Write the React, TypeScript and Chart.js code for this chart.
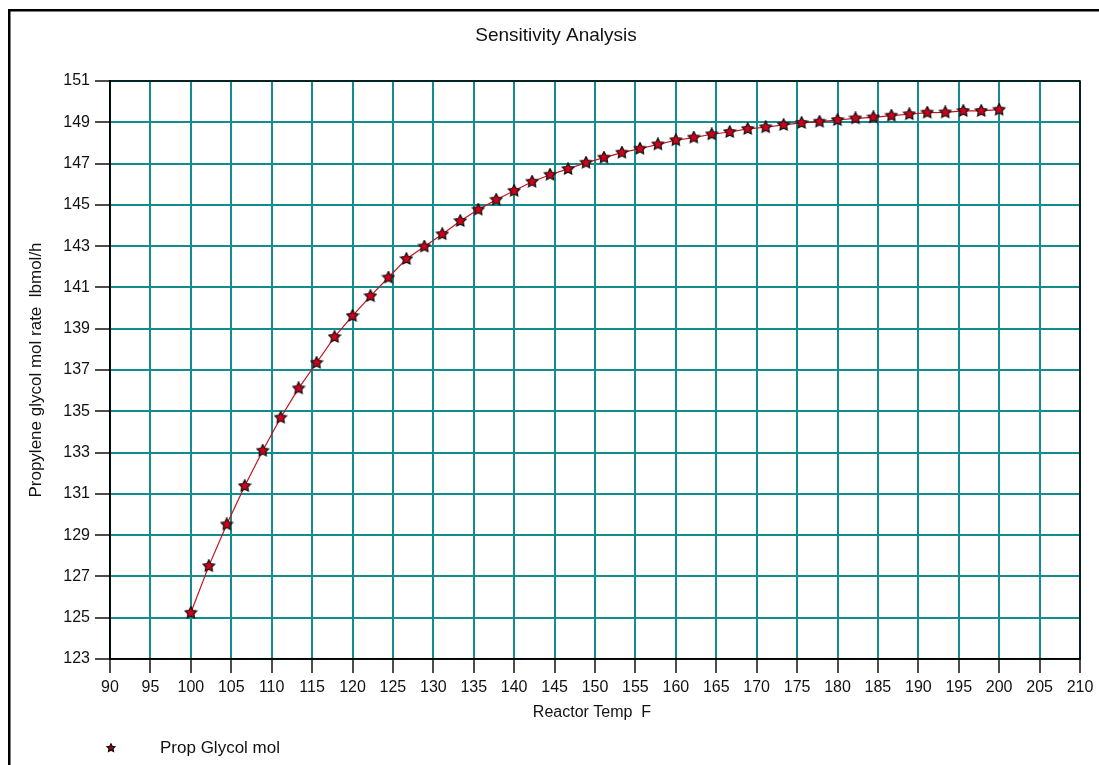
import { useEffect, useRef } from 'react';
import { Chart, registerables } from 'chart.js';

Chart.register(...registerables);

const chartTitle = 'Sensitivity Analysis';
const xAxisTitle = 'Reactor Temp  F';
const yAxisTitle = 'Propylene glycol mol rate  lbmol/h';
const seriesName = 'Prop Glycol mol';

const reactorTemps = [
  100, 102.22, 104.44, 106.67, 108.89, 111.11, 113.33, 115.56, 117.78, 120,
  122.22, 124.44, 126.67, 128.89, 131.11, 133.33, 135.56, 137.78, 140, 142.22,
  144.44, 146.67, 148.89, 151.11, 153.33, 155.56, 157.78, 160, 162.22, 164.44,
  166.67, 168.89, 171.11, 173.33, 175.56, 177.78, 180, 182.22, 184.44, 186.67,
  188.89, 191.11, 193.33, 195.56, 197.78, 200,
];

const glycolRates = [
  125.24, 127.5, 129.52, 131.38, 133.09, 134.69, 136.11, 137.35, 138.6, 139.62,
  140.58, 141.48, 142.38, 142.98, 143.58, 144.22, 144.77, 145.25, 145.68, 146.12,
  146.46, 146.74, 147.04, 147.29, 147.53, 147.72, 147.93, 148.13, 148.26, 148.42,
  148.53, 148.68, 148.76, 148.87, 148.97, 149.03, 149.11, 149.19, 149.24, 149.32,
  149.39, 149.47, 149.48, 149.55, 149.55, 149.61,
];

const xTickValues = [
  90, 95, 100, 105, 110, 115, 120, 125, 130, 135, 140, 145, 150, 155, 160, 165,
  170, 175, 180, 185, 190, 195, 200, 205, 210,
];

const yTickValues = [123, 125, 127, 129, 131, 133, 135, 137, 139, 141, 143, 145, 147, 149, 151];

const FONT = "'Liberation Sans', Arial, sans-serif";
const GRID = '#128c8c';

function makeStar(size: number, fill: string, stroke: string) {
  const c = document.createElement('canvas');
  c.width = size;
  c.height = size;
  const ctx = c.getContext('2d')!;
  const cx = size / 2;
  const cy = size / 2;
  const R = size / 2 - 0.8;
  const r = R * 0.5;
  ctx.beginPath();
  for (let i = 0; i < 10; i++) {
    const a = -Math.PI / 2 + (i * Math.PI) / 5;
    const rad = i % 2 === 0 ? R : r;
    ctx.lineTo(cx + rad * Math.cos(a), cy + rad * Math.sin(a));
  }
  ctx.closePath();
  ctx.fillStyle = fill;
  ctx.fill();
  ctx.strokeStyle = stroke;
  ctx.lineWidth = 1.2;
  ctx.stroke();
  return c;
}

export default function App() {
  const ref = useRef<HTMLCanvasElement | null>(null);

  useEffect(() => {
    if (!ref.current) return;
    const star = makeStar(14, '#d0001a', '#111');
    const legendStar = makeStar(10, '#9a0010', '#111');

    const decor = {
      id: 'decor',
      beforeDraw(chart: any) {
        const ctx = chart.ctx;
        ctx.save();
        ctx.fillStyle = '#fff';
        ctx.fillRect(0, 0, chart.width, chart.height);
        ctx.strokeStyle = '#000';
        ctx.lineWidth = 2.5;
        ctx.strokeRect(9.25, 10.25, 1200, 900);
        ctx.restore();
      },
      beforeDatasetsDraw(chart: any) {
        const { ctx, chartArea } = chart;
        ctx.save();
        ctx.strokeStyle = '#000';
        ctx.lineWidth = 1.5;
        ctx.strokeRect(chartArea.left, chartArea.top, chartArea.right - chartArea.left, chartArea.bottom - chartArea.top);
        ctx.restore();
      },
      afterDraw(chart: any) {
        const { ctx, chartArea } = chart;
        ctx.save();
        ctx.fillStyle = '#111';
        ctx.textBaseline = 'middle';
        ctx.textAlign = 'center';
        ctx.font = `19px ${FONT}`;
        ctx.fillText(chartTitle, 556, 36);
        ctx.font = `16px ${FONT}`;
        ctx.fillText(xAxisTitle, (chartArea.left + chartArea.right) / 2 - 3, 713);
        ctx.save();
        ctx.translate(36, (chartArea.top + chartArea.bottom) / 2);
        ctx.rotate(-Math.PI / 2);
        ctx.font = `17px ${FONT}`;
        ctx.fillText(yAxisTitle, 0, 0);
        ctx.restore();
        ctx.drawImage(legendStar, 111 - 5, 748 - 5);
        ctx.textAlign = 'left';
        ctx.font = `17px ${FONT}`;
        ctx.fillText(seriesName, 160, 748);
        ctx.restore();
      },
    };

    const chart = new Chart(ref.current, {
      type: 'scatter',
      data: {
        datasets: [
          {
            label: seriesName,
            data: reactorTemps.map((t, i) => ({ x: t, y: glycolRates[i] })),
            showLine: true,
            borderColor: '#c8101e',
            borderWidth: 1.2,
            pointStyle: star as any,
            pointRadius: 7,
            tension: 0,
          },
        ],
      },
      options: {
        animation: false,
        responsive: false,
        layout: { padding: { top: 81, right: 19, left: 0, bottom: 0 } },
        plugins: {
          legend: { display: false },
          title: { display: false },
          tooltip: { enabled: false },
        },
        scales: {
          x: {
            type: 'linear',
            min: 90,
            max: 210,
            afterBuildTicks: (s: any) => {
              s.ticks = xTickValues.map((v) => ({ value: v }));
            },
            afterFit: (s: any) => {
              s.height = 106;
            },
            grid: {
              color: GRID,
              lineWidth: 2,
              tickLength: 14,
              tickColor: '#111',
              tickWidth: 1.5,
            },
            border: { color: '#000', width: 1.5 },
            ticks: {
              color: '#111',
              font: { family: FONT, size: 16 },
              padding: 5,
              maxRotation: 0,
              autoSkip: false,
            },
          },
          y: {
            type: 'linear',
            min: 123,
            max: 151,
            afterBuildTicks: (s: any) => {
              s.ticks = yTickValues.map((v) => ({ value: v }));
            },
            afterFit: (s: any) => {
              s.width = 110;
            },
            grid: {
              color: GRID,
              lineWidth: 2,
              tickLength: 15,
              tickColor: '#111',
              tickWidth: 1.5,
            },
            border: { color: '#000', width: 1.5 },
            ticks: {
              color: '#111',
              font: { family: FONT, size: 16 },
              padding: 5,
              autoSkip: false,
            },
          },
        },
      },
      plugins: [decor],
    } as any);

    return () => chart.destroy();
  }, []);

  return (
    <div style={{ position: 'fixed', left: 0, top: 0, width: 1099, height: 765, overflow: 'hidden' }}>
      <canvas ref={ref} width={1099} height={765} style={{ display: 'block' }} />
    </div>
  );
}
